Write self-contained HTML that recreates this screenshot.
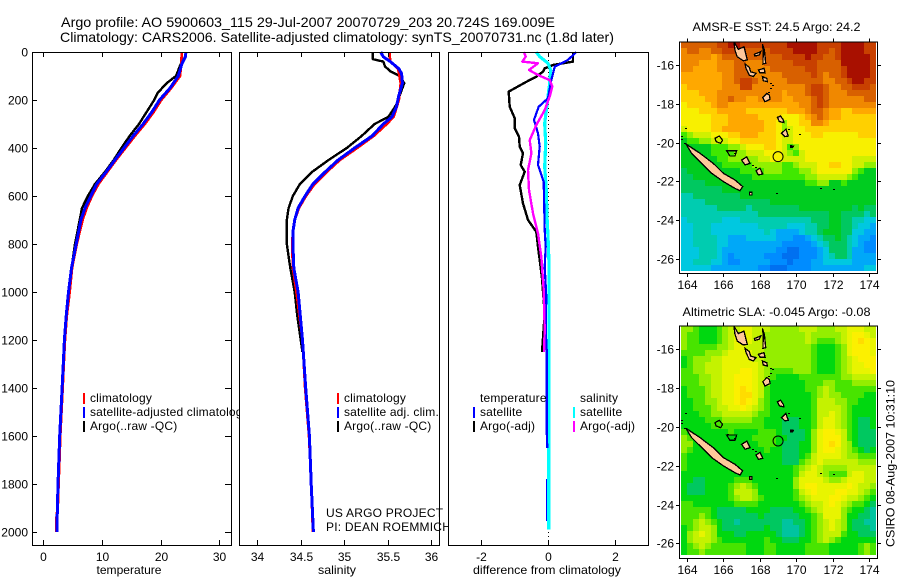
<!DOCTYPE html>
<html>
<head>
<meta charset="utf-8">
<title>Argo profile</title>
<style>
html,body{margin:0;padding:0;background:#fff;}
svg{display:block;}
text{font-family:"Liberation Sans",sans-serif;font-size:12px;fill:#000;}
</style>
</head>
<body>
<svg id="chart" xmlns="http://www.w3.org/2000/svg" width="900" height="580" viewBox="0 0 900 580">
<rect x="0" y="0" width="900" height="580" fill="#fff"/>
</svg>
<script>
// ---------- profile data ----------
const depthTicks = [0,200,400,600,800,1000,1200,1400,1600,1800,2000];
const tempTicks = [0,10,20,30];
const salTicks = [34,34.5,35,35.5,36];
const salTickLabels = ['34','34.5','35','35.5','36'];
const diffTicks = [-2,0,2];

const tempClimDepth = [0,50,100,150,200,250,300,350,400,450,500,550,600,650,700,800,900,1000,1100,1200,1300,1400,1600,1680,1800,1880,1950,2000];
const tempClim = [23.6,23.5,23.3,21.8,20.1,18.8,17.3,15.6,14.0,12.4,10.9,9.4,8.3,7.4,6.7,5.7,4.9,4.5,4.0,3.7,3.5,3.3,2.9,2.8,2.6,2.5,2.2,2.2];
const tempSatDepth = [0,20,50,100,150,200,250,300,350,400,450,500,550,600,650,700,800,900,1000,1100,1200,1300,1400,1600,1800,2000];
const tempSat = [24.3,24.2,23.6,23.0,21.6,19.8,18.5,17.0,15.3,13.75,12.2,10.7,9.1,8.1,7.1,6.4,5.6,4.8,4.3,3.9,3.6,3.4,3.2,2.8,2.5,2.3];
const tempArgoDepth = [50,100,130,170,200,250,300,350,400,450,500,550,600,650,700,800,900,1000,1100,1250];
const tempArgo = [23.4,22.6,21.0,19.5,18.9,17.6,16.3,14.7,13.3,12.0,10.5,8.8,7.6,6.6,6.2,5.4,4.8,4.3,3.9,3.5];

const salClimDepth = [0,40,70,130,200,270,300,350,400,450,500,550,600,650,700,750,800,900,1000,1200,1400,1600,1800,2000];
const salClim = [35.52,35.53,35.62,35.65,35.63,35.57,35.49,35.34,35.15,34.95,34.80,34.66,34.56,34.48,34.43,34.41,34.40,34.41,34.45,34.52,34.55,34.595,34.62,34.64];
const salSatDepth = [0,20,40,70,90,130,180,230,270,300,350,400,450,500,550,600,650,700,750,800,900,1000,1200,1400,1600,1800,2000];
const salSat = [35.42,35.45,35.53,35.63,35.66,35.67,35.63,35.60,35.55,35.45,35.32,35.12,34.93,34.78,34.64,34.55,34.47,34.43,34.41,34.41,34.42,34.47,34.52,34.557,34.60,34.62,34.645];
const salArgoDepth = [0,30,40,60,80,100,130,180,220,270,300,350,400,450,500,550,600,650,700,800,900,1000,1100,1250];
const salArgo = [35.33,35.33,35.45,35.47,35.53,35.64,35.69,35.64,35.60,35.51,35.35,35.20,35.03,34.82,34.63,34.49,34.41,34.36,34.34,34.34,34.38,34.43,34.46,34.52];

const diffTempSatDepth = [0,33,61,117,193,228,283,339,394,471,540,742,811,894,1019,1158,1242,1575,1650];
const diffTempSat = [0.85,0.6,0.2,0.1,0,-0.28,-0.42,-0.3,-0.25,-0.3,-0.13,-0.1,-0.07,-0.1,-0.05,-0.07,-0.04,-0.04,-0.02];
const diffTempSatDeepDepth = [1780,1955];
const diffTempSatDeep = [-0.05,-0.05];
const diffTempArgoDepth = [0,40,54,68,82,103,124,165,228,276,318,353,394,422,471,499,554,631,700,749,811,867,943,1089,1250];
const diffTempArgo = [0.75,0.75,0.15,-0.1,-0.15,-0.35,-0.65,-1.18,-1.15,-1,-1,-0.87,-0.85,-0.75,-0.82,-0.7,-0.85,-0.75,-0.6,-0.35,-0.3,-0.25,-0.18,-0.1,-0.18];
const diffSalSatDepth = [0,19,47,75,130,186,242,297,380,478,575,686,769,880,1019,1250,1400,1650,1990];
const diffSalSat = [-0.35,-0.25,0,0.08,0.05,0,-0.05,-0.1,-0.07,-0.1,-0.05,-0.03,0,0.03,0.03,0.03,0.02,0.02,0.02];
const diffSalArgoDepth = [0,19,40,47,75,96,117,144,186,242,304,367,422,492,575,672,756,853,992,1158,1250];
const diffSalArgo = [-0.72,-0.67,-0.77,-0.3,-0.57,-0.3,0.05,0.13,0.05,-0.1,-0.35,-0.55,-0.5,-0.6,-0.57,-0.45,-0.3,-0.2,-0.13,-0.1,-0.12];

// ---------- map data (colour-level per grid cell) ----------
const lonTicks = [164,166,168,170,172,174];
const latTicks = [16,18,20,22,24,26];
const sstGrid = [
[14,14,14,14,14,14,15,15,16,16,15,15,15,15,15,15,15,15,16,16,16,16,16,15,15,15,15,16,16,16,16,15,15],
[13,14,14,13,13,14,14,15,15,15,15,14,14,14,14,15,15,15,15,16,16,16,16,15,15,14,15,16,16,16,16,15,15],
[13,13,13,13,13,12,13,14,14,14,14,14,14,14,14,14,14,15,15,15,15,16,15,15,14,14,15,16,16,16,16,16,15],
[13,13,13,12,12,12,13,13,13,14,14,13,13,13,14,14,14,14,14,15,15,15,15,14,14,14,14,16,16,16,16,16,15],
[13,13,12,12,12,12,13,13,13,14,14,13,13,13,13,14,14,14,14,14,14,15,15,14,14,14,14,15,16,16,16,16,15],
[12,12,12,12,12,12,12,13,13,14,14,14,13,13,13,13,13,14,14,14,14,14,15,14,13,14,14,15,16,16,16,16,15],
[12,12,12,12,12,12,12,13,13,14,15,15,14,13,13,13,13,13,14,14,14,14,14,14,13,13,14,14,15,16,16,15,15],
[11,12,12,12,12,12,12,13,13,13,15,15,13,13,13,13,13,13,13,13,13,14,15,15,14,13,13,14,14,15,15,15,14],
[11,11,11,12,12,12,13,13,13,13,13,13,13,13,13,13,13,12,13,13,13,14,15,15,14,13,13,13,14,14,14,14,14],
[11,11,11,11,12,12,13,13,14,13,13,12,12,13,13,13,13,12,12,13,13,13,14,15,14,13,13,13,13,13,13,14,14],
[10,11,11,11,11,12,13,13,12,12,12,12,12,12,12,12,12,12,12,12,13,13,14,15,14,13,13,13,13,13,13,13,13],
[10,10,10,11,11,11,12,12,12,12,12,11,11,11,11,11,11,11,12,12,12,13,14,14,13,12,12,11,11,12,12,12,12],
[10,10,10,10,10,11,11,11,12,12,12,12,12,11,11,11,11,10,10,10,11,12,13,14,13,12,12,11,11,11,11,11,11],
[10,10,10,10,10,11,11,11,12,12,12,12,12,12,11,11,10,8,10,10,11,11,13,13,12,11,11,11,11,11,11,11,11],
[9,10,10,10,10,11,11,12,12,12,12,12,12,12,11,11,10,8,9,10,10,11,11,11,11,11,11,11,11,11,11,11,11],
[7,8,9,9,9,10,10,10,11,11,12,12,12,11,11,11,10,9,9,10,10,10,11,11,10,10,10,10,10,10,11,11,11],
[6,7,7,8,8,9,9,9,10,10,11,11,11,11,11,11,10,9,9,10,10,10,10,10,10,10,10,10,10,10,10,10,10],
[6,6,6,6,6,7,7,7,8,8,9,10,10,10,11,11,10,9,7,8,10,10,10,10,10,10,10,10,10,10,10,10,10],
[6,6,6,6,6,7,7,7,7,8,8,9,9,9,10,10,10,9,8,7,9,10,10,10,10,10,10,10,10,10,10,10,10],
[6,6,6,6,6,6,7,7,8,8,8,8,8,9,9,10,10,9,9,9,9,10,10,10,10,10,10,10,10,9,9,9,9],
[6,6,6,6,6,6,6,7,7,7,7,7,8,8,8,8,8,7,7,8,9,9,9,10,10,11,11,10,10,9,9,8,8],
[5,6,6,6,6,6,6,6,6,6,7,7,7,7,8,8,8,7,7,7,8,8,9,10,10,10,10,10,10,8,7,6,6],
[5,5,6,6,6,6,6,6,6,6,6,6,7,7,7,7,7,7,7,7,7,8,8,9,9,9,9,9,8,7,6,6,6],
[5,5,5,5,6,6,6,6,6,6,6,6,6,6,6,6,6,6,6,6,6,7,7,8,8,6,6,7,6,6,6,6,6],
[5,5,5,5,5,5,5,6,6,6,6,6,6,6,6,6,6,6,6,6,6,6,6,6,6,6,6,6,6,6,6,6,6],
[4,4,5,5,5,5,5,5,5,5,6,6,6,6,6,6,6,6,6,6,6,6,6,6,6,6,6,6,6,6,6,6,6],
[4,4,4,4,5,5,5,5,5,5,5,5,5,5,5,6,6,6,6,6,6,6,6,6,6,6,6,6,6,6,6,6,6],
[4,4,4,4,4,4,5,5,5,5,5,4,5,5,5,5,5,5,5,5,6,6,6,6,6,6,6,6,6,5,6,5,5],
[4,4,4,4,4,4,4,4,4,4,4,4,4,5,5,5,5,5,5,5,5,5,5,5,5,6,6,5,5,5,5,4,5],
[3,4,4,4,4,4,4,3,3,3,4,4,4,4,4,4,4,4,4,4,4,4,5,5,5,6,6,5,5,4,4,3,3],
[3,3,4,4,4,3,3,3,3,3,3,3,3,4,4,4,4,4,3,3,3,4,4,5,5,6,6,5,5,4,3,3,2],
[3,3,4,4,4,3,3,3,3,3,3,3,3,3,4,3,2,2,2,2,3,4,4,5,6,6,6,5,5,3,3,2,2],
[3,3,4,4,4,4,3,3,2,2,2,3,3,3,3,3,2,2,2,1,1,2,3,4,5,5,6,5,4,3,2,2,1],
[3,3,4,4,4,4,3,3,2,2,2,2,2,2,2,2,2,1,1,1,1,1,2,3,4,5,5,5,4,3,2,1,1],
[3,3,3,4,4,4,3,2,2,2,2,2,2,2,2,2,1,1,0,0,1,1,1,2,3,5,5,5,4,2,2,1,1],
[3,3,3,4,4,4,3,2,1,2,2,2,2,2,1,1,1,0,0,0,1,1,1,2,3,4,5,5,4,2,2,2,2],
[3,3,4,4,4,3,3,2,1,1,2,2,2,2,2,1,1,1,0,1,1,1,2,2,3,3,3,3,3,2,2,2,2],
[3,3,3,3,3,2,2,2,2,2,2,2,2,1,1,0,0,0,1,1,1,1,2,2,2,2,2,2,2,2,2,3,3]
];
const slaGrid = [
[8,8,7,6,6,6,7,8,9,9,10,10,9,9,9,8,8,8,8,8,9,9,9,8,8,8,9,9,10,10,10,9,9],
[8,7,7,6,6,6,7,8,9,10,10,10,9,9,8,8,8,8,8,8,8,9,8,8,8,8,8,9,10,11,11,10,9],
[8,7,7,6,6,6,7,8,9,10,10,10,9,9,8,8,8,8,8,8,8,9,8,7,7,7,8,9,10,11,12,11,10],
[8,7,7,7,7,7,8,8,9,10,10,9,9,9,8,8,8,8,8,8,8,8,7,6,6,6,7,8,10,11,11,11,10],
[7,7,7,7,8,8,8,9,10,10,10,10,9,9,8,8,8,8,8,8,8,8,7,6,6,6,7,8,10,11,11,11,10],
[6,7,8,8,8,9,9,10,10,10,10,10,9,9,8,8,8,8,8,8,8,8,7,6,6,6,7,8,9,10,11,11,11],
[6,7,8,8,9,9,9,10,10,10,10,10,10,9,8,8,8,8,8,8,8,8,7,6,6,6,7,8,9,10,10,11,11],
[7,7,8,8,9,9,9,10,10,10,11,11,10,9,8,7,7,7,7,8,8,8,7,6,6,6,7,8,9,10,10,10,11],
[7,7,7,8,8,9,9,10,10,11,11,11,10,9,8,7,6,6,6,6,7,7,7,7,7,7,7,8,8,9,9,9,9],
[7,7,7,8,8,9,9,10,10,11,11,11,10,9,8,6,6,6,6,6,6,7,7,7,8,8,7,7,7,8,8,8,8],
[6,7,7,7,8,9,9,10,10,11,12,11,10,9,7,6,6,6,6,6,6,7,7,8,9,8,7,7,7,7,7,7,7],
[6,7,7,7,8,9,9,10,10,11,12,12,10,9,7,6,6,6,6,6,6,6,7,8,9,8,8,7,7,7,7,6,6],
[6,6,7,7,8,8,9,10,10,11,12,11,10,8,7,6,6,6,6,6,6,6,7,9,9,9,8,8,7,7,6,6,6],
[6,6,7,7,7,8,9,9,10,10,11,10,9,8,7,6,6,6,6,6,6,6,7,9,9,9,9,8,7,6,6,6,6],
[6,6,6,7,7,8,8,9,9,9,9,9,8,7,7,6,6,6,6,6,6,6,7,9,9,10,9,8,7,6,6,6,6],
[6,6,6,6,7,7,7,8,8,8,8,8,7,7,6,6,6,5,5,5,6,6,7,9,10,10,9,8,7,6,5,5,6],
[6,6,6,6,6,7,7,7,7,7,7,7,7,7,6,6,6,5,5,5,6,6,7,9,10,10,9,8,7,6,5,5,6],
[7,6,6,6,6,6,6,6,7,6,6,6,6,7,7,7,6,5,5,5,5,6,8,10,11,11,10,9,7,6,5,5,5],
[8,7,6,6,6,6,6,6,6,6,6,6,7,7,7,7,6,6,5,5,5,6,8,10,11,11,11,9,7,6,5,5,5],
[8,8,6,6,6,6,6,6,6,6,6,6,6,7,7,7,6,5,5,5,6,6,8,10,11,12,11,9,8,6,5,5,5],
[8,7,6,6,6,6,6,6,6,6,6,6,6,6,7,6,6,5,5,5,6,6,8,10,11,11,10,9,8,7,6,5,6],
[7,6,6,6,6,6,6,6,6,6,6,6,6,6,6,6,6,5,5,5,6,7,9,10,10,10,10,9,8,8,7,7,7],
[7,6,6,6,6,6,6,6,6,6,6,6,6,6,6,6,6,5,5,5,7,8,9,10,9,9,9,9,9,9,8,8,8],
[7,6,6,6,6,6,6,6,6,6,6,6,6,6,6,6,6,6,6,7,8,9,10,9,8,8,8,8,9,9,9,9,9],
[6,6,6,6,6,6,6,6,6,6,6,6,6,6,6,6,6,6,6,7,9,10,10,9,8,7,7,7,9,10,10,9,9],
[6,6,5,5,6,6,6,6,6,7,7,7,6,6,6,6,6,6,6,8,10,10,10,10,9,8,8,9,10,10,10,9,9],
[6,5,5,5,6,6,6,6,7,8,9,8,7,6,6,6,6,6,6,8,10,11,11,10,10,10,10,10,11,10,9,9,8],
[6,5,5,5,6,6,6,6,7,9,9,9,8,6,6,6,6,6,6,7,9,10,11,10,10,10,11,11,10,10,9,8,7],
[6,6,6,6,6,6,6,6,7,8,9,9,8,7,6,6,6,6,6,7,8,9,10,10,10,11,11,10,9,9,8,7,6],
[7,7,6,6,6,6,6,6,6,7,7,7,7,6,6,6,6,6,6,6,7,8,9,9,10,11,10,9,8,7,7,6,5],
[7,7,7,7,7,6,5,5,5,5,5,6,6,6,6,5,5,5,5,6,6,7,8,9,10,10,10,8,7,6,6,5,4],
[7,7,7,8,7,6,5,5,5,5,5,5,5,6,5,5,5,5,5,5,6,6,7,8,10,10,10,8,6,6,5,5,4],
[7,7,8,9,8,7,6,5,5,4,5,5,5,5,5,5,5,4,4,5,5,6,7,8,9,10,9,8,6,5,5,4,4],
[6,7,8,9,9,8,6,5,5,5,5,5,5,5,6,5,5,4,4,4,5,6,7,8,9,10,9,8,6,5,5,5,4],
[6,8,9,10,9,8,6,6,6,5,5,6,6,6,6,6,5,4,4,4,5,6,7,8,9,9,9,7,6,6,5,5,5],
[6,8,9,9,9,8,7,6,6,6,6,6,6,6,7,6,6,5,5,5,6,6,7,8,9,8,7,6,6,6,6,6,6],
[6,7,8,9,8,7,7,7,7,7,7,6,6,6,7,7,6,6,6,6,6,7,7,7,7,6,6,6,6,6,7,8,7],
[6,7,7,8,7,7,7,7,7,7,7,6,6,6,7,7,6,6,6,6,6,7,7,7,7,6,6,6,6,6,7,8,7]
];
const sstColours = ['#0070f0','#008cff','#00a8f8','#00c8e0','#00ccb0','#00c860','#00cc20','#40e800','#90f000','#d0f000','#f8f000','#ffd000','#ffa800','#f08800','#d86000','#c84000','#a81000'];
const slaColours = ['#0070f0','#008cff','#00a8f8','#00c8e0','#00c4a0','#00c860','#00d810','#48e400','#94ee00','#c4f200','#e8f400','#fcf000','#ffdc00'];

// coastlines: [lon,lat] vertices, positive lat = degrees south
const islands = [
 [[163.96,20.07],[164.18,20.21],[164.73,20.55],[165.46,21.07],[166.01,21.58],[166.65,21.93],[167.07,22.27],[166.92,22.48],[166.65,22.36],[166.01,22.01],[165.37,21.58],[164.73,20.98],[164.27,20.55]],
 [[166.59,14.80],[166.83,15.19],[167.14,15.06],[167.25,15.48],[167.32,15.74],[167.10,15.78],[166.77,15.57],[166.65,15.23]],
 [[167.20,15.95],[167.43,16.12],[167.51,16.35],[167.80,16.43],[167.65,16.60],[167.43,16.52],[167.25,16.17]],
 [[167.71,15.45],[168.06,15.31],[167.98,15.48],[167.74,15.54]],
 [[168.15,14.92],[168.26,15.23],[168.33,15.91],[168.18,15.95],[168.20,15.31]],
 [[167.93,16.26],[168.24,16.17],[168.30,16.40],[168.02,16.40]],
 [[168.15,16.60],[168.39,16.69],[168.42,16.86],[168.20,16.81]],
 [[168.17,17.67],[168.39,17.46],[168.53,17.55],[168.57,17.77],[168.29,17.89]],
 [[168.97,18.70],[169.15,18.63],[169.30,18.84],[169.33,18.97],[169.08,18.92]],
 [[169.20,19.52],[169.44,19.31],[169.57,19.66],[169.39,19.69]],
 [[169.69,20.16],[169.85,20.18],[169.81,20.24],[169.70,20.24]],
 [[167.01,20.90],[167.29,20.73],[167.47,21.07],[167.20,21.15]],
 [[167.80,21.45],[168.02,21.32],[168.17,21.62],[167.93,21.67]],
 [[167.44,22.56],[167.58,22.56],[167.58,22.70],[167.44,22.70]]
];
const lagoons = [
 [[165.55,19.78],[165.79,19.66],[165.97,19.87],[165.86,20.04],[165.61,19.95]],
 [[166.19,20.42],[166.74,20.42],[166.65,20.69],[166.37,20.69]]
];
const islets = [[168.92,22.62],[171.31,22.36],[172.04,22.41],[170.18,19.54],[169.58,19.28],[163.89,19.26],[163.87,20.04],[163.67,19.65],[163.70,19.80],[168.57,16.94],[168.66,17.03],[168.57,17.20],[168.47,17.38],[167.56,21.15],[167.74,21.24],[166.19,20.38],[166.6,20.55]];
const floatPosition = [169.009,20.724];

// ---------- helpers ----------
const NS = 'http://www.w3.org/2000/svg';
const svg = document.getElementById('chart');
function mk(tag, attrs, name, parent) {
  const el = document.createElementNS(NS, tag);
  for (const k in attrs) el.setAttribute(k, attrs[k]);
  
  
  (parent || svg).appendChild(el);
  return el;
}
function txt(str, x, y, anchor, name, parent, len, adjust) {
  const a = {x:x, y:y, 'text-anchor':anchor};
  if (len) { a.textLength = len; a.lengthAdjust = adjust || 'spacingAndGlyphs'; }
  const el = mk('text', a, name, parent);
  el.textContent = str;
  return el;
}
const PTOP = 52, PBOT = 545;
const depthY = d => 52 + d * 0.24;
const tempX = t => 43.3 + t * 5.87;
const salX = s => 257.3 + (s - 34) * 86.9;
const diffX = v => 548 + v * 33.3;

function profilePanel(cfg) {
  const g = mk('g', {}, cfg.name);
  mk('rect', {x:cfg.x0, y:PTOP, width:cfg.x1-cfg.x0, height:PBOT-PTOP, fill:'#fff'}, cfg.name+'-background', g);
  if (cfg.zeroLine) {
    const zx = Math.round(cfg.scale(0))+.5;
    mk('line', {x1:zx, x2:zx, y1:PTOP, y2:PBOT, stroke:'#000', 'stroke-dasharray':'1 3', 'shape-rendering':'crispEdges'}, 'zero-reference-line', g);
  }
  cfg.series.forEach(s => {
    const pts = s.depth.map((d,i) => cfg.scale(s.values[i]).toFixed(1)+','+depthY(d).toFixed(1)).join(' ');
    mk('polyline', {points:pts, fill:'none', stroke:s.color, 'stroke-width':s.width, 'stroke-linejoin':'round', 'shape-rendering':'crispEdges'}, s.name, g);
  });
  mk('rect', {x:cfg.x0+.5, y:PTOP+.5, width:cfg.x1-cfg.x0, height:PBOT-PTOP, fill:'none', stroke:'#000', 'stroke-width':1, 'shape-rendering':'crispEdges'}, cfg.name+'-frame', g);
  cfg.ticks.forEach((t,i) => {
    const x = Math.round(cfg.scale(t))+.5;
    mk('path', {d:`M${x} ${PTOP}v5M${x} ${PBOT}v-5`, stroke:'#000', 'stroke-width':1, fill:'none', 'shape-rendering':'crispEdges'}, 'x-tick', g);
    txt(cfg.tickLabels[i], x, 561, 'middle', 'x-tick-label', g);
  });
  txt(cfg.xlabel, cfg.xlabelX, 574, 'middle', 'x-axis-title', g, cfg.xlabelLen);
  return g;
}

function legend(g, x, entries) {
  entries.forEach(e => {
    const y = e.y;
    if (e.color) mk('rect', {x:x, y:y-5, width:2, height:11, fill:e.color}, 'legend-swatch', g);
    const t = txt(e.label, x+7, y+4, 'start', 'legend-entry', g);
    t.style.letterSpacing = '0.18px';
  });
}

// ---------- panels ----------
const p1 = profilePanel({name:'temperature-panel', x0:32, x1:231, scale:tempX, ticks:tempTicks, tickLabels:tempTicks.map(String), xlabel:'temperature', xlabelX:129, xlabelLen:65,
 series:[
  {name:'temperature-argo-line', depth:tempArgoDepth, values:tempArgo, color:'#000', width:2.4},
  {name:'temperature-climatology-line', depth:tempClimDepth, values:tempClim, color:'#f00', width:2.6},
  {name:'temperature-satellite-line', depth:tempSatDepth, values:tempSat, color:'#00f', width:3}
 ]});
depthTicks.forEach(d => {
  const y = Math.round(depthY(d))+.5;
  mk('path', {d:`M32 ${y}h5M231 ${y}h-6`, stroke:'#000', fill:'none', 'shape-rendering':'crispEdges'}, 'y-tick', p1);
  txt(String(d), 28, y+4, 'end', 'y-tick-label', p1);
});
legend(p1, 83, [
 {y:398, color:'#f00', label:'climatology'},
 {y:412, color:'#00f', label:'satellite-adjusted climatology'},
 {y:426, color:'#000', label:'Argo(..raw -QC)'}
]);

const p2 = profilePanel({name:'salinity-panel', x0:239, x1:439, scale:salX, ticks:salTicks, tickLabels:salTickLabels, xlabel:'salinity', xlabelX:337, xlabelLen:38,
 series:[
  {name:'salinity-argo-line', depth:salArgoDepth, values:salArgo, color:'#000', width:2.4},
  {name:'salinity-climatology-line', depth:salClimDepth, values:salClim, color:'#f00', width:2.6},
  {name:'salinity-satellite-line', depth:salSatDepth, values:salSat, color:'#00f', width:3}
 ]});
legend(p2, 337, [
 {y:398, color:'#f00', label:'climatology'},
 {y:412, color:'#00f', label:'satellite adj. clim.'},
 {y:426, color:'#000', label:'Argo(..raw -QC)'}
]);
txt('US ARGO PROJECT', 326, 517, 'start', 'project-label', p2).style.letterSpacing = '0.22px';
txt('PI: DEAN ROEMMICH', 326, 531, 'start', 'pi-label', p2).style.letterSpacing = '0.22px';

const p3 = profilePanel({name:'difference-panel', x0:448, x1:648, scale:diffX, zeroLine:true, ticks:diffTicks, tickLabels:['-2','0','2'], xlabel:'difference from climatology', xlabelX:547, xlabelLen:148,
 series:[
  {name:'difference-temperature-argo-line', depth:diffTempArgoDepth, values:diffTempArgo, color:'#000', width:2.4},
  {name:'difference-salinity-satellite-line', depth:diffSalSatDepth, values:diffSalSat, color:'#0ff', width:3.2},
  {name:'difference-temperature-satellite-line', depth:diffTempSatDepth, values:diffTempSat, color:'#00f', width:2.2},
  {name:'difference-temperature-satellite-deep-line', depth:diffTempSatDeepDepth, values:diffTempSatDeep, color:'#00f', width:1},
  {name:'difference-salinity-argo-line', depth:diffSalArgoDepth, values:diffSalArgo, color:'#f0f', width:2.4}
 ]});
legend(p3, 473, [
 {y:398, color:null, label:'temperature'},
 {y:412, color:'#00f', label:'satellite'},
 {y:426, color:'#000', label:'Argo(-adj)'}
]);
legend(p3, 573, [
 {y:398, color:null, label:'salinity'},
 {y:412, color:'#0ff', label:'satellite'},
 {y:426, color:'#f0f', label:'Argo(-adj)'}
]);

// ---------- maps ----------
const lonX = lon => 686.7 + (lon - 164) * 18.24;
function mapPanel(cfg) {
  const latY = lat => cfg.y16 + (lat - 16) * 19.4;
  const g = mk('g', {}, cfg.name);
  const cellLon = 0.324, cellLat = 0.3105, lon0 = 163.69, lat0 = 14.81;
  const heat = mk('g', {'shape-rendering':'crispEdges'}, cfg.name+'-heatmap', g);
  cfg.grid.forEach((row,r) => row.forEach((v,c) => {
    const x = Math.round(lonX(lon0 + c*cellLon)), x2 = Math.round(lonX(lon0 + (c+1)*cellLon));
    const y = Math.round(latY(lat0 + r*cellLat)), y2 = Math.round(latY(lat0 + (r+1)*cellLat));
    mk('rect', {x:x, y:y, width:x2-x, height:y2-y, fill:cfg.colours[v]}, 'heatmap-cell', heat);
  }));
  const poly = p => p.map(q => lonX(q[0]).toFixed(1)+','+latY(q[1]).toFixed(1)).join(' ');
  islands.forEach(p => mk('polygon', {points:poly(p), fill:'#ffc89a', stroke:'#000', 'stroke-width':1.3, 'shape-rendering':'crispEdges'}, 'island', g));
  lagoons.forEach(p => mk('polygon', {points:poly(p), fill:'none', stroke:'#000', 'stroke-width':1.2, 'shape-rendering':'crispEdges'}, 'lagoon-outline', g));
  islets.forEach(p => mk('rect', {x:Math.round(lonX(p[0])), y:Math.round(latY(p[1])), width:2, height:1, fill:'#000'}, 'islet', g));
  mk('circle', {cx:lonX(floatPosition[0]), cy:latY(floatPosition[1]), r:5, fill:'none', stroke:'#000', 'stroke-width':1}, 'float-position-marker', g);
  mk('rect', {x:679.5, y:cfg.top+.5, width:198, height:cfg.bottom-cfg.top, fill:'none', stroke:'#000', 'shape-rendering':'crispEdges'}, cfg.name+'-frame', g);
  lonTicks.forEach(t => {
    const x = Math.round(lonX(t))+.5;
    mk('path', {d:`M${x} ${cfg.top}v-3M${x} ${cfg.bottom+1}v3`, stroke:'#000', fill:'none', 'shape-rendering':'crispEdges'}, 'longitude-tick', g);
    txt(String(t), x, cfg.bottom+16, 'middle', 'longitude-label', g);
  });
  latTicks.forEach(t => {
    const y = Math.round(latY(t))+.5;
    mk('path', {d:`M679 ${y}h-3M878 ${y}h3`, stroke:'#000', fill:'none', 'shape-rendering':'crispEdges'}, 'latitude-tick', g);
    txt('-'+t, 674, y+4, 'end', 'latitude-label', g);
  });
}
mapPanel({name:'sst-map', grid:sstGrid, colours:sstColours, y16:65, top:41.5, bottom:273});
mapPanel({name:'sla-map', grid:slaGrid, colours:slaColours, y16:349.3, top:325.5, bottom:558});

// ---------- titles ----------
txt('Argo profile: AO 5900603_115 29-Jul-2007 20070729_203 20.724S 169.009E', 61, 27, 'start', 'figure-title-line-1', svg, 494).style.fontSize='14px';
txt('Climatology: CARS2006. Satellite-adjusted climatology: synTS_20070731.nc (1.8d later)', 60, 42, 'start', 'figure-title-line-2', svg, 554).style.fontSize='14px';
txt('AMSR-E SST: 24.5 Argo: 24.2', 776.5, 31, 'middle', 'sst-map-title', svg, 168);
txt('Altimetric SLA: -0.045 Argo: -0.08', 776.5, 316, 'middle', 'sla-map-title', svg, 188);
const stamp = txt('CSIRO 08-Aug-2007 10:31:10', 0, 0, 'middle', 'timestamp-label', svg, 167);
stamp.setAttribute('transform', 'translate(894.5,463.5) rotate(-90)');
</script>
</body>
</html>
